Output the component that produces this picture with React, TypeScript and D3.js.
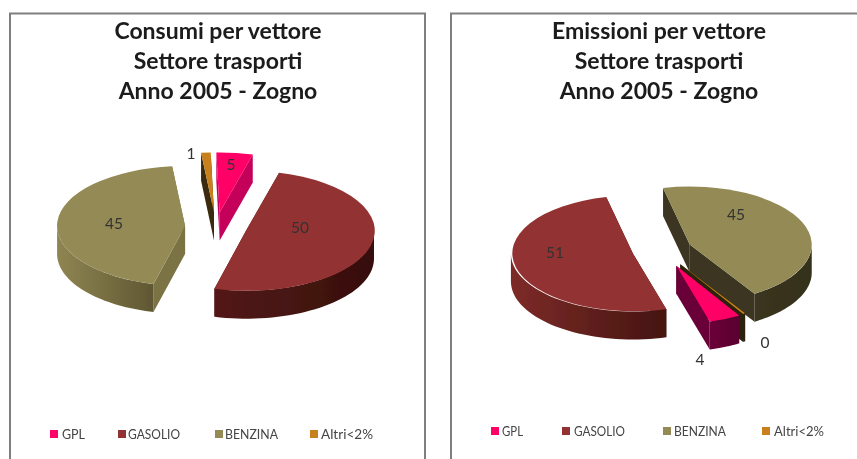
import React from 'react';
import * as d3 from 'd3';

const categories = ['GPL', 'GASOLIO', 'BENZINA', 'Altri<2%'];
const consumi = [4.6, 50, 44.6, 1.2];
const emissioni = [4.2, 50.9, 44.6, 0.3];
const titoloConsumi = ['Consumi per vettore', 'Settore trasporti', 'Anno 2005 - Zogno'];
const titoloEmissioni = ['Emissioni per vettore', 'Settore trasporti', 'Anno 2005 - Zogno'];

const topColors = ['#FF0066', '#933230', '#948A54', '#C8801A'];

const rad = (deg: number) => (deg * Math.PI) / 180;
const fmt = d3.format('.0f');

// layout of each of the two pies
const panels = [
  {
    id: 'a', values: consumi, title: titoloConsumi,
    box: [10, 425], titleX: 218, cx: 216, cy: 227, rx: 128, ry: 60, depth: 28, explode: [31, 31, 31, 31], start: -1.5,
    wall: ['#C4005A', '#5A1A18', '#7B7344', '#3A2A10'],
    side: [['#C4005A', '#A80050'], ['#541816', '#360F0D'], ['#8F8552', '#5F5733'], ['#3A2A10', '#3A2A10']],
    labels: [[231, 166], [300, 229], [114, 225], [191, 155]],
    legendSquares: [50, 118, 215, 310], legendText: [62, 128, 225, 321], legendLen: [23, 52, 53, 52], legendY: 434,
  },
  {
    id: 'b', values: emissioni, title: titoloEmissioni,
    box: [451, 900], titleX: 659, cx: 662, cy: 250, rx: 122, ry: 58, depth: 28, explode: [36, 30, 30, 35], start: 149,
    wall: ['#6B0038', '#451410', '#3A3520', '#2A2008'],
    side: [['#6B0038', '#5A0030'], ['#7D2B28', '#451410'], ['#3A3520', '#35301C'], ['#2A2008', '#2A2008']],
    labels: [[700, 361], [555, 254], [736, 216], [765, 344]],
    legendSquares: [491, 562, 663, 762], legendText: [502, 574, 674, 774], legendLen: [21, 51, 52, 50], legendY: 431,
  },
];

function PiePanel({ p }: { p: (typeof panels)[number] }) {
  const pie = d3.pie<number>().sort(null).startAngle(rad(p.start)).endAngle(rad(p.start + 360));
  const arcs = pie(p.values);
  const topArc = d3.arc<d3.PieArcDatum<number>>().innerRadius(0).outerRadius(1);
  const line = d3.line();
  const sx = d3.scaleLinear().domain([-1, 1]).range([-p.rx, p.rx]);
  const sy = d3.scaleLinear().domain([-1, 1]).range([-p.ry, p.ry]);

  const slices = arcs.map((a, i) => {
    const mid = (a.startAngle + a.endAngle) / 2;
    const ox = p.cx + sx(Math.sin(mid) * (p.explode[i] / p.rx));
    const oy = p.cy + sy(-Math.cos(mid) * (p.explode[i] / p.rx));
    const rim = (t: number): [number, number] => [ox + sx(Math.sin(t)), oy + sy(-Math.cos(t))];
    const wallOf = (t: number) => {
      const e = rim(t);
      return line([[ox, oy], e, [e[0], e[1] + p.depth], [ox, oy + p.depth]]) + 'Z';
    };
    // outer wall only where the rim faces the viewer
    const pts: [number, number][] = [];
    for (let k = -1; k <= 1; k++) {
      const base = k * 2 * Math.PI;
      const from = Math.max(a.startAngle, base + Math.PI / 2);
      const to = Math.min(a.endAngle, base + (3 * Math.PI) / 2);
      if (to > from) d3.range(0, 41).forEach((n) => pts.push(rim(from + ((to - from) * n) / 40)));
    }
    const outer = pts.length
      ? line([...pts, ...pts.slice().reverse().map((q) => [q[0], q[1] + p.depth] as [number, number])]) + 'Z'
      : null;
    return { a, i, mid, ox, oy, outer, w0: wallOf(a.startAngle), w1: wallOf(a.endAngle) };
  });

  const order = slices.slice().sort((u, v) => Math.cos(v.mid) - Math.cos(u.mid));

  return (
    <g>
      <defs>
        {p.side.map((c, i) => (
          <linearGradient key={i} id={`side-${p.id}-${i}`} x1="0" x2="1" y1="0" y2="0">
            <stop offset="0" stopColor={c[0]} />
            <stop offset="1" stopColor={c[1]} />
          </linearGradient>
        ))}
      </defs>
      <path
        d={`M${p.box[0]},459V13.5H${p.box[1]}V459`}
        fill="#fff"
        stroke="#7f7f7f"
        strokeWidth={2}
      />
      <g filter="url(#soft)">
        {p.title.map((t, i) => (
          <text key={i} x={p.titleX} y={39 + i * 30} textAnchor="middle" fontFamily="Lato" fontWeight={700} fontSize={23} fill="#1a1a1a">
            {t}
          </text>
        ))}
        {order.map((s) => (
          <g key={s.i}>
            <path d={s.w0} fill={p.wall[s.i]} />
            <path d={s.w1} fill={p.wall[s.i]} />
            {s.outer && <path d={s.outer} fill={`url(#side-${p.id}-${s.i})`} />}
            <path
              d={topArc(s.a) as string}
              transform={`translate(${s.ox},${s.oy}) scale(${p.rx},${p.ry})`}
              fill={topColors[s.i]}
            />
          </g>
        ))}
        {p.values.map((v, i) => (
          <text key={i} x={p.labels[i][0]} y={p.labels[i][1]} textAnchor="middle" dominantBaseline="middle" fontFamily="Lato" fontSize={15.5} fill="#333">
            {fmt(v)}
          </text>
        ))}
        {categories.map((c, i) => (
          <g key={c}>
            <rect x={p.legendSquares[i]} y={p.legendY - 4} width={8} height={8} fill={topColors[i]} />
            <text
              x={p.legendText[i]}
              y={p.legendY + 5}
              fontFamily="Lato"
              fontSize={13}
              fill="#444"
              textLength={p.legendLen[i]}
              lengthAdjust="spacingAndGlyphs"
            >
              {c}
            </text>
          </g>
        ))}
      </g>
    </g>
  );
}

export default function App() {
  return (
    <svg width={857} height={459} style={{ position: 'absolute', left: 0, top: 0, display: 'block', background: '#fff' }}>
      <defs>
        <filter id="soft" x="-5%" y="-5%" width="110%" height="110%">
          <feGaussianBlur stdDeviation="0.45" />
        </filter>
      </defs>
      {panels.map((p) => (
        <PiePanel key={p.id} p={p} />
      ))}
    </svg>
  );
}
